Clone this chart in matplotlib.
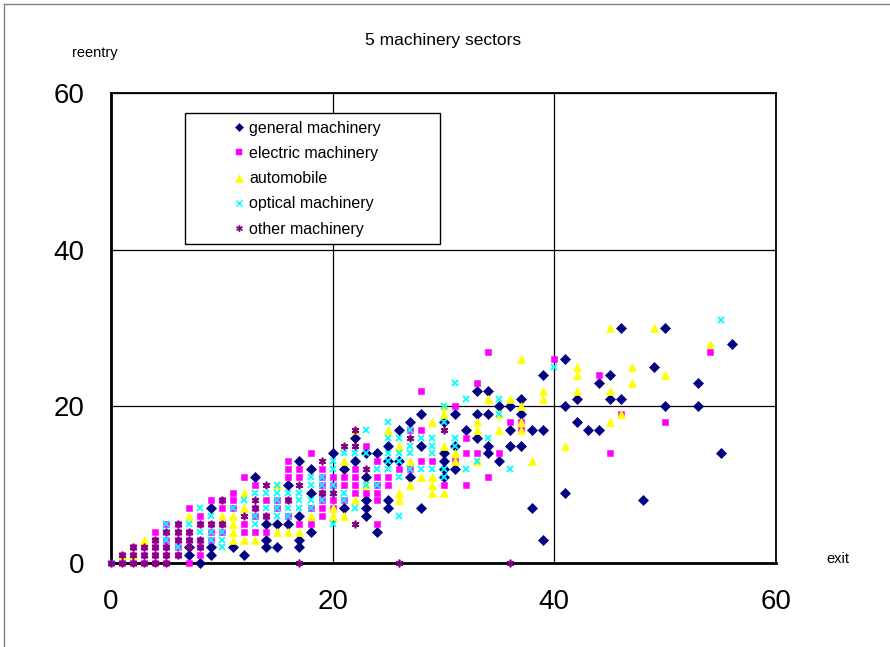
import matplotlib
matplotlib.use("Agg")
import matplotlib.pyplot as plt
from matplotlib.patches import Rectangle
from matplotlib.lines import Line2D

# (exit, reentry) counts per sector
general_x = [7, 7, 8, 9, 9, 9, 11, 12, 13, 14, 14, 14, 15, 15, 16, 16, 17, 17, 17, 17,
             18, 18, 18, 20, 21, 21, 22, 22, 23, 23, 23, 23, 23, 24, 24, 25, 25, 25, 25,
             26, 26, 27, 27, 28, 28, 28, 30, 30, 30, 30, 30, 31, 31, 31, 32, 33, 33, 33,
             34, 34, 34, 34, 35, 35, 36, 36, 36, 37, 37, 37, 38, 38, 39, 39, 39, 41, 41,
             41, 42, 42, 43, 44, 44, 45, 45, 46, 46, 48, 49, 50, 50, 53, 53, 55, 56]
general_y = [1, 2, 0, 1, 2, 7, 2, 1, 11, 2, 3, 5, 2, 5, 5, 10, 2, 3, 6, 13,
             4, 9, 12, 14, 7, 12, 13, 16, 6, 7, 8, 11, 14, 4, 14, 7, 8, 13, 15,
             13, 17, 11, 18, 7, 15, 19, 11, 12, 13, 14, 18, 12, 15, 19, 17, 16, 19, 22,
             14, 15, 19, 22, 13, 20, 15, 17, 20, 15, 19, 21, 7, 17, 3, 17, 24, 9, 20,
             26, 18, 21, 17, 17, 23, 21, 24, 21, 30, 8, 25, 20, 30, 20, 23, 14, 28]

electric_x = [0, 1, 1, 2, 2, 2, 3, 3, 3, 4, 4, 4, 4, 4, 5, 5, 5, 5, 5, 5,
              6, 6, 6, 6, 6, 7, 7, 7, 7, 8, 8, 8, 8, 8, 9, 9, 9, 9, 10, 10, 10, 10,
              11, 11, 11, 12, 12, 12, 13, 13, 13, 13, 14, 14, 14, 15, 15,
              16, 16, 16, 16, 16, 17, 17, 17, 18, 18, 18, 19, 19, 19, 19, 19, 19, 19,
              20, 20, 20, 20, 21, 21, 21, 22, 22, 22, 22, 23, 23, 24, 24, 24, 24, 24, 24,
              25, 25, 26, 27, 27, 28, 28, 28, 29, 30, 31, 31, 32, 32, 32, 33, 33, 34, 34,
              35, 36, 37, 37, 40, 44, 45, 46, 50, 54]
electric_y = [0, 0, 1, 0, 1, 2, 0, 1, 2, 0, 1, 2, 3, 4, 0, 1, 2, 3, 4, 5,
              1, 2, 3, 4, 5, 0, 3, 4, 7, 1, 2, 3, 5, 6, 3, 4, 5, 8, 4, 5, 7, 8,
              7, 8, 9, 4, 5, 11, 4, 6, 7, 10, 4, 6, 8, 7, 8,
              6, 8, 11, 12, 13, 5, 11, 12, 5, 7, 14, 6, 7, 8, 9, 10, 11, 12,
              7, 8, 10, 11, 8, 10, 11, 9, 10, 11, 12, 9, 15, 5, 8, 9, 10, 11, 13,
              10, 11, 12, 12, 17, 13, 17, 22, 13, 10, 13, 20, 10, 14, 16, 14, 23, 11, 27,
              14, 18, 17, 18, 26, 24, 14, 19, 18, 27]

automobile_x = [1, 2, 3, 7, 10, 11, 11, 11, 11, 12, 12, 12, 13, 15, 15, 16, 17, 18,
                20, 20, 21, 21, 22, 22, 23, 25, 26, 26, 26, 27, 27, 28, 29, 29, 29, 29,
                30, 30, 30, 30, 31, 31, 33, 33, 33, 34, 35, 35, 36, 37, 37, 37, 37, 38,
                39, 39, 41, 42, 42, 42, 45, 45, 45, 46, 47, 47, 49, 50, 54]
automobile_y = [1, 1, 3, 6, 6, 3, 4, 5, 6, 3, 7, 9, 3, 4, 10, 4, 4, 6,
                6, 7, 6, 13, 8, 17, 10, 17, 8, 9, 15, 10, 13, 11, 9, 10, 11, 18,
                9, 15, 19, 20, 13, 14, 13, 17, 18, 21, 17, 19, 21, 17, 18, 20, 26, 13,
                21, 22, 15, 22, 24, 25, 18, 22, 30, 19, 23, 25, 30, 24, 28]

optical_x = [0, 5, 5, 5, 6, 7, 8, 8, 9, 9, 9, 10, 10, 10, 11, 12, 13, 13, 13, 14, 14,
             15, 15, 15, 15, 15, 16, 16, 16, 17, 17, 17, 18, 18, 18, 18, 19, 19, 19,
             20, 20, 20, 20, 20, 21, 21, 21, 22, 22, 23, 23, 23, 24, 24,
             25, 25, 25, 25, 25, 26, 26, 26, 26, 26, 27, 27, 27, 27, 28, 28,
             29, 29, 29, 29, 30, 30, 30, 30, 31, 31, 31, 32, 32, 33, 34, 35, 35, 36, 40, 55]
optical_y = [0, 3, 4, 5, 2, 5, 4, 7, 3, 4, 6, 2, 3, 4, 7, 8, 5, 6, 9, 7, 9,
             6, 7, 8, 9, 10, 6, 7, 9, 7, 8, 9, 7, 8, 10, 11, 8, 10, 11,
             5, 9, 10, 12, 13, 8, 9, 14, 7, 14, 10, 14, 17, 10, 12,
             12, 13, 14, 16, 18, 6, 11, 13, 14, 16, 12, 14, 15, 17, 12, 16,
             12, 14, 15, 16, 11, 12, 18, 20, 15, 16, 23, 12, 21, 13, 16, 19, 21, 12, 25, 31]

other_x = [0, 1, 1, 2, 2, 2, 3, 3, 3, 4, 4, 4, 4, 5, 5, 5, 5, 6, 6, 6, 6,
           7, 7, 7, 8, 8, 8, 9, 10, 10, 12, 13, 13, 14, 14, 16, 17, 17, 19, 19,
           20, 21, 22, 22, 22, 23, 26, 27, 30, 36]
other_y = [0, 0, 1, 0, 1, 2, 0, 1, 2, 0, 1, 2, 3, 0, 1, 2, 4, 1, 3, 4, 5,
           2, 3, 4, 2, 3, 5, 5, 5, 8, 6, 7, 8, 6, 10, 8, 0, 10, 9, 13,
           9, 15, 5, 15, 17, 12, 0, 16, 17, 0]

series_labels = ["general machinery", "electric machinery", "automobile",
                 "optical machinery", "other machinery"]
x_ticks = [0, 20, 40, 60]
y_ticks = [0, 20, 40, 60]

narrow = ["Liberation Sans Narrow", "Liberation Sans", "DejaVu Sans"]
plain = ["Liberation Sans", "DejaVu Sans"]

fig = plt.figure(figsize=(8.9, 6.47), dpi=100)
ax = fig.add_axes([111 / 890, 1 - 563 / 647, 665 / 890, 470 / 647])

styles = [
    dict(marker="D", color="#000080", ms=4.8, mec="#000080", mew=0.5),
    dict(marker="s", color="#FF00FF", ms=5.0, mec="#FF00FF", mew=0.4),
    dict(marker="^", color="#FFFF00", ms=6.0, mec="#FFFF00", mew=0.5),
    dict(marker="x", color="#00FFFF", ms=4.8, mec="#00FFFF", mew=1.3),
    dict(marker=(6, 2, 0), color="#800080", ms=5.5, mec="#800080", mew=1.2),
]
data = [(general_x, general_y), (electric_x, electric_y),
        (automobile_x, automobile_y), (optical_x, optical_y), (other_x, other_y)]

handles = []
for (xs, ys), st, lab in zip(data, styles, series_labels):
    ax.plot(xs, ys, linestyle="none", marker=st["marker"], color=st["color"],
            markersize=st["ms"], markeredgecolor=st["mec"], markeredgewidth=st["mew"],
            clip_on=False, zorder=4)
    handles.append(Line2D([], [], linestyle="none", marker=st["marker"], color=st["color"],
                          markersize=st["ms"] * 0.85, markeredgecolor=st["mec"],
                          markeredgewidth=st["mew"] * 0.8, label=lab))

ax.set_xlim(0, 60)
ax.set_ylim(0, 60)
ax.set_xticks(x_ticks)
ax.set_yticks(y_ticks)
ax.set_xticklabels([str(v) for v in x_ticks], fontfamily=narrow, fontsize=20)
ax.set_yticklabels([str(v) for v in y_ticks], fontfamily=narrow, fontsize=20)
ax.tick_params(axis="x", length=0, pad=19)
ax.tick_params(axis="y", length=0, pad=19)
ax.grid(True, color="black", linewidth=0.9, zorder=1)
ax.set_axisbelow(True)
for side in ["left", "bottom"]:
    ax.spines[side].set_linewidth(2.0)
for side in ["top", "right"]:
    ax.spines[side].set_linewidth(1.3)

# legend box and entries
ax.add_patch(Rectangle((74 / 665, 319 / 470), 255 / 665, 131 / 470,
                       transform=ax.transAxes, facecolor="white", edgecolor="black",
                       linewidth=1.0, zorder=5))
leg = ax.legend(handles=handles, loc="upper left", bbox_to_anchor=(0.186, 0.941),
                frameon=False, borderpad=0, borderaxespad=0, handlelength=0.6,
                handletextpad=0.3, labelspacing=0.64, numpoints=1,
                prop={"family": plain, "size": 11.5})
leg.set_zorder(6)

fig.text(443 / 890, 1 - 40 / 647, "5 machinery sectors", ha="center", va="center",
         fontfamily=plain, fontsize=12.5)
fig.text(95 / 890, 1 - 53 / 647, "reentry", ha="center", va="center",
         fontfamily=plain, fontsize=10.5)
fig.text(838 / 890, 1 - 559 / 647, "exit", ha="center", va="center",
         fontfamily=plain, fontsize=10.5)

# outer chart border fragments
fig.add_artist(Line2D([3.5 / 890, 3.5 / 890], [0, 1 - 3.5 / 647],
                      transform=fig.transFigure, color="#808080", linewidth=1.0))
fig.add_artist(Line2D([3.5 / 890, 1], [1 - 3.5 / 647, 1 - 3.5 / 647],
                      transform=fig.transFigure, color="#808080", linewidth=1.0))

fig.savefig("out.png", dpi=100)
